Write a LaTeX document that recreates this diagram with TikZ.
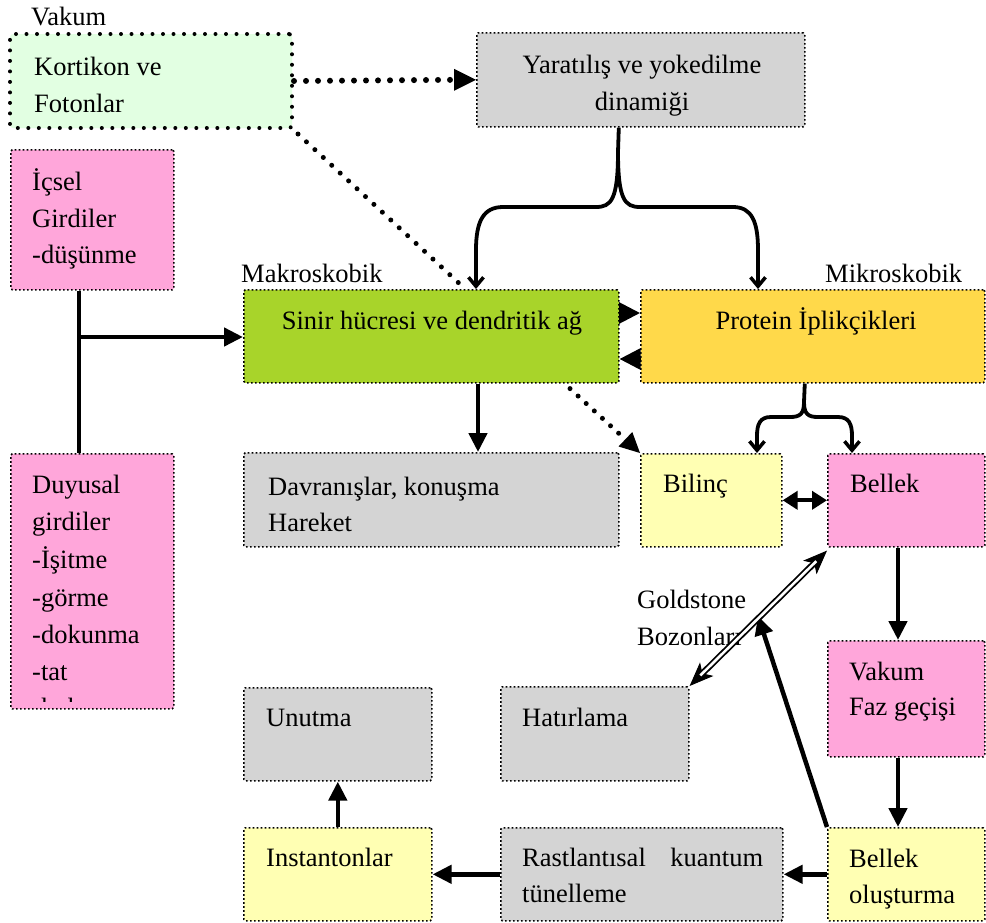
\documentclass[tikz,border=0pt]{standalone}
\usepackage{fontspec}
\setmainfont{Liberation Serif}
\usetikzlibrary{arrows.meta}
\definecolor{cgray}{HTML}{D4D4D4}
\definecolor{cpink}{HTML}{FFA6DA}
\definecolor{cyel}{HTML}{FFFFB3}
\definecolor{corange}{HTML}{FFD94A}
\definecolor{cgreen}{HTML}{A8D42A}
\definecolor{clgreen}{HTML}{E2FFE2}
\begin{document}
\begin{tikzpicture}[x=1pt,y=-1pt,
  box/.style={draw, line width=1.6pt, dash pattern=on 1.6pt off 2.4pt, rounded corners=1.5pt, inner sep=0pt, anchor=north west},
  hbox/.style={draw, line width=4pt, dash pattern=on 0pt off 10.5pt, line cap=round, rounded corners=3pt, inner sep=0pt, anchor=north west},
  txt/.style={inner sep=0pt, anchor=base west, font=\fontsize{26.5}{36}\selectfont},
  ctxt/.style={txt, anchor=base},
  thk/.style={line width=4.5pt},
  tarr/.style={thk, -{Triangle[length=19pt,width=18pt]}},
  brc/.style={line width=3.8pt, -{Straight Barb[length=9pt,width=15pt,line width=3.5pt]}},
  hdot/.style={line width=6pt, dash pattern=on 0pt off 12pt, line cap=round},
]
\useasboundingbox (0,0) rectangle (986,922);

% ---- boxes ----
\node[hbox, fill=clgreen, minimum width=282pt, minimum height=94pt] (kort) at (8,32) {};
\node[box, fill=cgray, minimum width=328pt, minimum height=94pt] (yar) at (476,32) {};
\node[box, fill=cpink, minimum width=163pt, minimum height=140pt] (icsel) at (10,149) {};
\node[box, fill=cgreen, minimum width=375pt, minimum height=93pt] (sinir) at (243,289) {};
\node[box, fill=corange, minimum width=344pt, minimum height=93pt] (prot) at (640,289) {};
\node[box, fill=cgray, minimum width=375pt, minimum height=94pt] (davr) at (243,452) {};
\node[box, fill=cyel, minimum width=141pt, minimum height=93pt] (bilinc) at (640,453) {};
\node[box, fill=cpink, minimum width=157pt, minimum height=93pt] (bellek) at (827,453) {};
\node[box, fill=cpink, minimum width=163pt, minimum height=255pt] (duy) at (10,453) {};
\node[box, fill=cpink, minimum width=157pt, minimum height=116pt] (vakum) at (827,640) {};
\node[box, fill=cyel, minimum width=157pt, minimum height=93pt] (bolus) at (827,827) {};
\node[box, fill=cgray, minimum width=188pt, minimum height=94pt] (hatir) at (500,686) {};
\node[box, fill=cgray, minimum width=188pt, minimum height=93pt] (unut) at (243,687) {};
\node[box, fill=cyel, minimum width=188pt, minimum height=93pt] (inst) at (243,827) {};
\node[box, fill=cgray, minimum width=282pt, minimum height=93pt] (rast) at (500,827) {};

% ---- texts ----
\node[txt] (lvak) at (31,25) {Vakum};
\node[txt] (k1) at (34,75) {Kortikon ve};
\node[txt] (k2) at (34,112) {Fotonlar};
\node[ctxt] (y1) at (642,73) {Yaratılış ve yokedilme};
\node[ctxt] (y2) at (642,110) {dinamiği};
\node[txt] (i1) at (32,190) {İçsel};
\node[txt] (i2) at (32,227) {Girdiler};
\node[txt] (i3) at (32,263) {-düşünme};
\node[txt] (lmak) at (241,282) {Makroskobik};
\node[txt] (lmik) at (825,282) {Mikroskobik};
\node[ctxt] (s1) at (432,329) {Sinir hücresi ve dendritik ağ};
\node[ctxt] (p1) at (816,329) {Protein İplikçikleri};
\node[txt] (d1) at (32,493) {Duyusal};
\node[txt] (d2) at (32,530) {girdiler};
\node[txt] (d3) at (32,568) {-İşitme};
\node[txt] (d4) at (32,606) {-görme};
\node[txt] (d5) at (32,643) {-dokunma};
\node[txt] (d6) at (32,680) {-tat};
\begin{scope}
  \clip (10,453) rectangle (173,701);
  \node[txt] (d7) at (32,716) {-koku};
\end{scope}
\node[txt] (dv1) at (268,495) {Davranışlar, konuşma};
\node[txt] (dv2) at (268,531) {Hareket};
\node[txt] (b1) at (663,492) {Bilinç};
\node[txt] (be1) at (850,492) {Bellek};
\node[txt] (v1) at (849,680) {Vakum};
\node[txt] (v2) at (849,715) {Faz geçişi};
\node[txt] (g1) at (637,608) {Goldstone};
\node[txt] (g2) at (637,645) {Bozonları};
\node[txt] (h1) at (522,726) {Hatırlama};
\node[txt] (u1) at (266,726) {Unutma};
\node[txt] (in1) at (266,866) {Instantonlar};
\node[txt] (r1) at (522,866) {\hbox to 241pt{Rastlantısal\hfill kuantum}};
\node[txt] (r2) at (522,902) {tünelleme};
\node[txt] (bo1) at (849,867) {Bellek};
\node[txt] (bo2) at (849,903) {oluşturma};

% ---- connectors ----
\draw[hdot] (kort.east) -- ([xshift=-18pt]yar.west);
\fill ([xshift=-22pt,yshift=11pt]yar.west) -- (yar.west) -- ([xshift=-22pt,yshift=-11pt]yar.west) -- cycle;
\draw[line width=5pt, dash pattern=on 0pt off 11.5pt, line cap=round] ([xshift=4pt,yshift=-4pt]kort.south east) -- ([xshift=219pt,yshift=3pt]sinir.north west);

% brace from Yaratilis
\coordinate (yb) at (618,152);
\draw[brc] ([xshift=-22pt]yar.south) -- (yb) .. controls (618,200) and (611,207) .. (596,207) -- (503,207) .. controls (483,207) and (476,222) .. (476,250) -- ([xshift=233pt]sinir.north west);
\draw[brc] (yb) .. controls (618,200) and (625,207) .. (640,207) -- (733,207) .. controls (752,207) and (758,222) .. (758,250) -- ([xshift=118pt]prot.north west);

% brace from Protein
\coordinate (pb) at (804,402);
\draw[brc] ([xshift=-8pt]prot.south) -- (pb) .. controls (804,414) and (800,417) .. (790,417) -- (771,417) .. controls (760,417) and (757,424) .. (757,436) -- ([xshift=117pt]bilinc.north west);
\draw[brc] (pb) .. controls (804,414) and (808,417) .. (818,417) -- (838,417) .. controls (849,417) and (852,424) .. (852,436) -- ([xshift=25pt]bellek.north west);

% Sinir <-> Protein
\draw[line width=3pt, -{Triangle[length=21pt,width=21pt]}] ([yshift=-24pt]sinir.north east) -- ([yshift=-24pt]prot.north west);
\draw[line width=3pt, -{Triangle[length=21pt,width=21pt]}] ([yshift=-70pt]prot.north west) -- ([yshift=-70pt]sinir.north east);

% inputs
\draw[thk] ([xshift=69pt]icsel.south west) -- ([xshift=69pt]duy.north west);
\coordinate (jn) at (79,337);
\draw[tarr] (jn) -- (jn -| sinir.west);

% Sinir -> Davranislar, Sinir -> Bilinc
\draw[tarr] ([xshift=235pt]sinir.south west) -- ([xshift=235pt]davr.north west);
\draw[line width=5pt, dash pattern=on 0pt off 11pt, line cap=round] ([xshift=327pt,yshift=-5pt]sinir.south west) -- ([xshift=-14pt,yshift=13pt]bilinc.north west);
\fill (bilinc.north west) -- ([xshift=-21.5pt,yshift=6.5pt]bilinc.north west) -- ([xshift=-7.7pt,yshift=21pt]bilinc.north west) -- cycle;

% Bilinc <-> Bellek
\draw[line width=4pt, {Triangle[length=15pt,width=18pt]}-{Triangle[length=15pt,width=18pt]}] (bilinc.east) -- (bellek.west);

% right column
\draw[tarr] ([xshift=71pt]bellek.south west) -- ([xshift=71pt]vakum.north west);
\draw[tarr] ([xshift=71pt]vakum.south west) -- ([xshift=71pt]bolus.north west);
\coordinate (gt) at (758,616);
\draw[tarr] (bolus.north west) -- (gt);

% Goldstone double arrow
\draw[line width=1pt, {Stealth[length=24pt,width=19pt,inset=6pt]}-{Stealth[length=24pt,width=19pt,inset=6pt]}] ([yshift=-3pt]bellek.south west) -- (hatir.north east);
\draw[line width=1.8pt, double=white, double distance=2.6pt, shorten <=15pt, shorten >=15pt] ([yshift=-3pt]bellek.south west) -- (hatir.north east);

% bottom row
\draw[tarr] (bolus.west) -- (rast.east);
\draw[tarr] (rast.west) -- (inst.east);
\draw[tarr] (inst.north) -- (unut.south);
\end{tikzpicture}
\end{document}
